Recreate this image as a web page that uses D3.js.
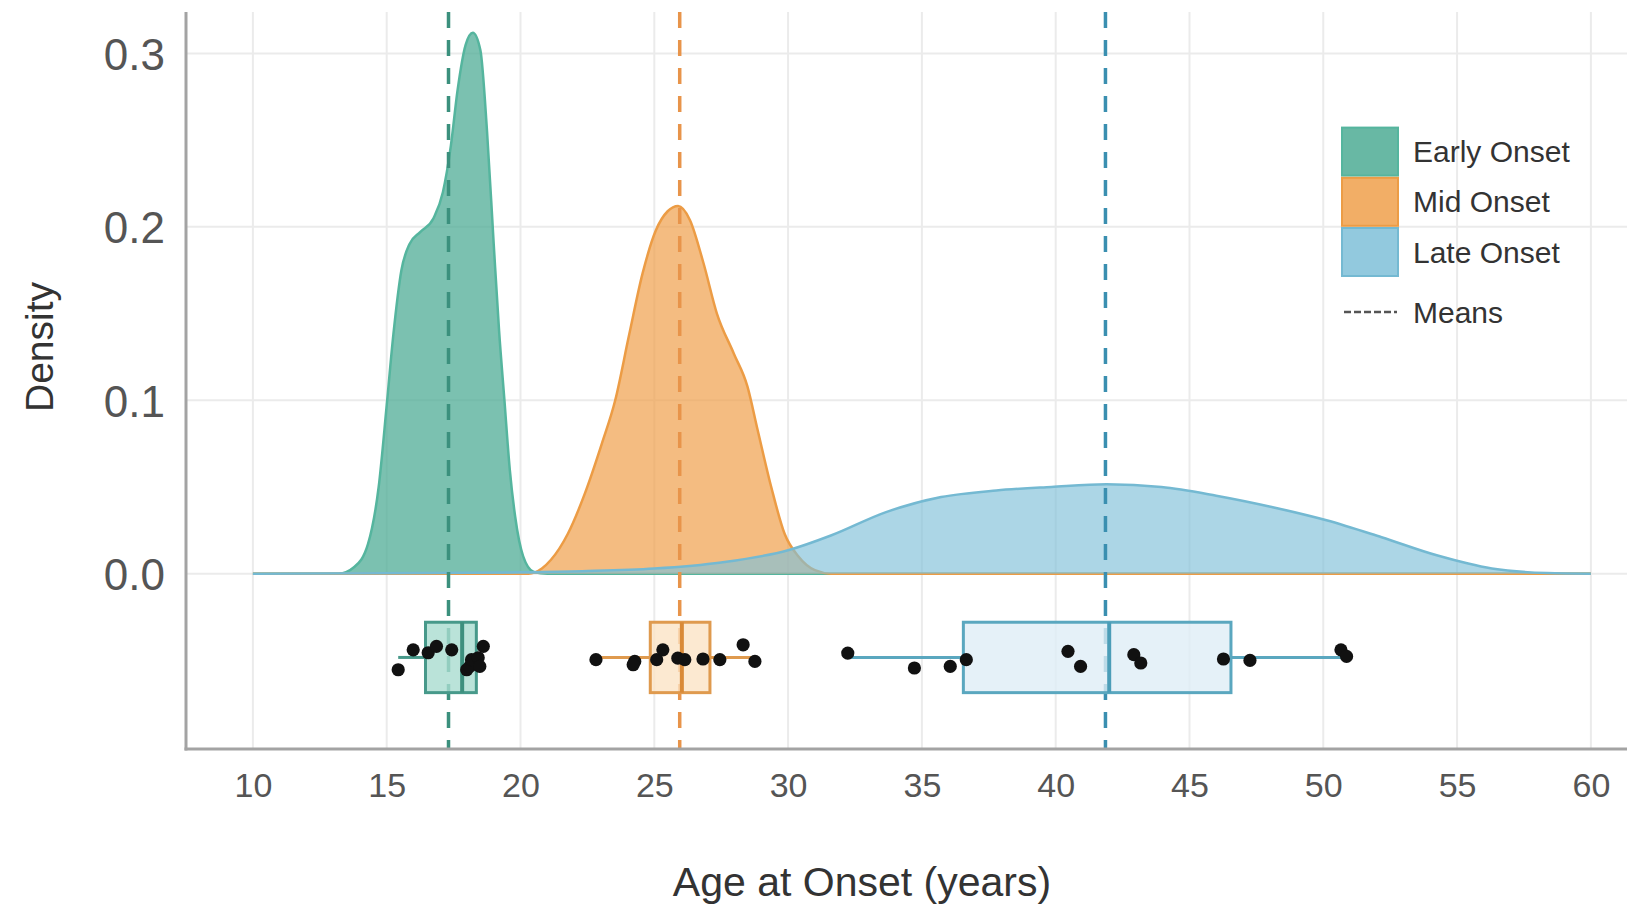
<!DOCTYPE html>
<html>
<head>
<meta charset="utf-8">
<script src="https://cdn.jsdelivr.net/npm/d3@7"></script>
<style>
  html, body { margin: 0; padding: 0; background: #fff; }
  svg { display: block; font-family: "Liberation Sans", Arial, Helvetica, sans-serif; }
</style>
</head>
<body>
<svg id="chart" width="1640" height="908"></svg>
<script>
// ---------------- DATA ----------------
const categories = ["Early Onset", "Mid Onset", "Late Onset"];
const xTicks = [10, 15, 20, 25, 30, 35, 40, 45, 50, 55, 60];
const yTicks = [0.0, 0.1, 0.2, 0.3];
const yTickLabels = ["0.0", "0.1", "0.2", "0.3"];

// density curves (age, density)
const earlyAge = [10, 13.2, 13.8, 14.3, 14.7, 15.0, 15.25, 15.55, 15.85, 16.25, 16.75, 17.1, 17.4, 17.65, 17.95, 18.22, 18.5, 18.75, 19.0, 19.2, 19.4, 19.6, 19.8, 20.1, 20.5, 21, 60];
const earlyDens = [0, 0, 0.004, 0.017, 0.05, 0.097, 0.138, 0.175, 0.19, 0.197, 0.205, 0.22, 0.247, 0.279, 0.305, 0.312, 0.302, 0.255, 0.19, 0.14, 0.1, 0.06, 0.033, 0.01, 0.001, 0, 0];

const midAge = [10, 20.3, 20.8, 21.14, 21.77, 22.4, 23.04, 23.54, 24.05, 24.56, 25.06, 25.5, 25.89, 26.33, 26.84, 27.34, 27.97, 28.48, 28.86, 29.37, 29.87, 30.38, 31.0, 31.6, 60];
const midDens = [0, 0, 0.003, 0.008, 0.023, 0.046, 0.075, 0.1, 0.137, 0.173, 0.198, 0.209, 0.212, 0.204, 0.179, 0.15, 0.127, 0.108, 0.083, 0.05, 0.023, 0.01, 0.002, 0, 0];

const lateAge = [10, 15, 20, 22.5, 25, 27.5, 30, 31.6, 33.66, 35.72, 37.78, 39.84, 41.9, 43.95, 46.0, 48.07, 50.12, 52.18, 54.24, 56.3, 58.35, 60];
const lateDens = [0, 0.0002, 0.0008, 0.0015, 0.003, 0.0065, 0.0135, 0.022, 0.0355, 0.0442, 0.048, 0.05, 0.0515, 0.05, 0.045, 0.0385, 0.0308, 0.021, 0.0106, 0.003, 0.0004, 0];

const means = [17.31, 25.95, 41.86];

// boxplot statistics: [lower whisker, Q1, median, Q3, upper whisker]
const earlyBox = [15.43, 16.45, 17.82, 18.35, 18.61];
const midBox = [22.82, 24.85, 26.03, 27.08, 28.76];
const lateBox = [32.23, 36.55, 42.0, 46.55, 50.87];

// observed points: age and jittered vertical value (density units)
const earlyPtAge = [15.43, 15.99, 16.55, 16.86, 17.43, 17.99, 18.11, 18.17, 18.42, 18.61, 18.48];
const earlyPtY = [-0.0554, -0.0439, -0.0456, -0.0419, -0.0439, -0.0554, -0.0535, -0.0496, -0.0485, -0.0419, -0.0535];
const midPtAge = [22.82, 24.27, 24.21, 25.09, 25.32, 25.88, 26.14, 26.82, 27.45, 28.32, 28.76];
const midPtY = [-0.0496, -0.0506, -0.0525, -0.0496, -0.0439, -0.0487, -0.0496, -0.0492, -0.0496, -0.041, -0.0506];
const latePtAge = [32.23, 34.72, 36.06, 36.66, 40.46, 40.93, 42.92, 43.18, 46.27, 47.26, 50.66, 50.87];
const latePtY = [-0.0458, -0.0544, -0.0535, -0.0496, -0.0448, -0.0535, -0.0467, -0.0515, -0.0492, -0.05, -0.0439, -0.0477];

// ---------------- STYLE / LAYOUT ----------------
const colors = {
  fill:   ["#4dab94", "#f0a04b", "#7fc0d8"],
  fillOp: [0.74, 0.7, 0.65],
  stroke: ["#55b59e", "#ec9c45", "#74b9d2"],
  mean:   ["#3b907d", "#e8944a", "#3a8fb0"],
  boxFill:["#a9dccf", "#fbe3c6", "#dfeef6"],
  boxStroke:["#47998a", "#df9a4e", "#5aa7bf"],
  median: ["#3d907e", "#d98a38", "#4b9db8"]
};
const boxCenter = -0.0483, boxHalf = 0.0203;

const svg = d3.select("#chart");
const plotL = 186, plotR = 1627, plotT = 12, plotB = 749;

const x = d3.scaleLinear().domain([7.5, 61.35]).range([plotL, plotR]);
const y = d3.scaleLinear().domain([-0.1011, 0.3239]).range([plotB, plotT]);

// grid
const grid = svg.append("g");
grid.selectAll("line.v").data(xTicks).join("line").attr("class", "v")
  .attr("x1", d => x(d)).attr("x2", d => x(d))
  .attr("y1", plotT).attr("y2", plotB)
  .attr("stroke", "#ebebeb").attr("stroke-width", 2);
grid.selectAll("line.h").data(yTicks).join("line").attr("class", "h")
  .attr("x1", plotL).attr("x2", plotR)
  .attr("y1", d => y(d)).attr("y2", d => y(d))
  .attr("stroke", "#ebebeb").attr("stroke-width", 2);

// densities
const series = [
  {age: earlyAge, dens: earlyDens},
  {age: midAge, dens: midDens},
  {age: lateAge, dens: lateDens}
];
const area = d3.area().curve(d3.curveMonotoneX)
  .x(d => x(d[0])).y0(y(0)).y1(d => y(d[1]));
const line = d3.line().curve(d3.curveMonotoneX)
  .x(d => x(d[0])).y(d => y(d[1]));
series.forEach((s, i) => {
  const pts = s.age.map((a, j) => [a, s.dens[j]]);
  svg.append("path").datum(pts).attr("d", area)
    .attr("fill", colors.fill[i]).attr("fill-opacity", colors.fillOp[i]);
  svg.append("path").datum(pts).attr("d", line)
    .attr("fill", "none").attr("stroke", colors.stroke[i]).attr("stroke-width", 2.5);
});

// mean lines
svg.append("g").selectAll("line").data(means).join("line")
  .attr("x1", d => x(d)).attr("x2", d => x(d))
  .attr("y1", plotT).attr("y2", plotB)
  .attr("stroke", (d, i) => colors.mean[i]).attr("stroke-width", 3.5)
  .attr("stroke-dasharray", "16,12");

// boxplots
const boxes = [earlyBox, midBox, lateBox];
boxes.forEach((b, i) => {
  const g = svg.append("g");
  g.append("line").attr("x1", x(b[0])).attr("x2", x(b[1]))
    .attr("y1", y(boxCenter)).attr("y2", y(boxCenter))
    .attr("stroke", colors.boxStroke[i]).attr("stroke-width", 3);
  g.append("line").attr("x1", x(b[3])).attr("x2", x(b[4]))
    .attr("y1", y(boxCenter)).attr("y2", y(boxCenter))
    .attr("stroke", colors.boxStroke[i]).attr("stroke-width", 3);
  g.append("rect").attr("x", x(b[1])).attr("width", x(b[3]) - x(b[1]))
    .attr("y", y(boxCenter + boxHalf)).attr("height", y(boxCenter - boxHalf) - y(boxCenter + boxHalf))
    .attr("fill", colors.boxFill[i]).attr("fill-opacity", 0.8)
    .attr("stroke", colors.boxStroke[i]).attr("stroke-width", 3);
  g.append("line").attr("x1", x(b[2])).attr("x2", x(b[2]))
    .attr("y1", y(boxCenter + boxHalf)).attr("y2", y(boxCenter - boxHalf))
    .attr("stroke", colors.median[i]).attr("stroke-width", 4);
});

// points
const ptSets = [[earlyPtAge, earlyPtY], [midPtAge, midPtY], [latePtAge, latePtY]];
ptSets.forEach(([ages, ys]) => {
  svg.append("g").selectAll("circle").data(ages.map((a, j) => [a, ys[j]])).join("circle")
    .attr("cx", d => x(d[0])).attr("cy", d => y(d[1])).attr("r", 6.6)
    .attr("fill", "#111");
});

// axes lines
svg.append("line").attr("x1", plotL).attr("x2", plotL).attr("y1", plotT).attr("y2", plotB + 1.5)
  .attr("stroke", "#a3a3a3").attr("stroke-width", 3);
svg.append("line").attr("x1", plotL - 1.5).attr("x2", plotR).attr("y1", plotB).attr("y2", plotB)
  .attr("stroke", "#a3a3a3").attr("stroke-width", 3);

// tick labels
const xAxis = d3.axisBottom(x).tickValues(xTicks).tickSize(0).tickPadding(0).tickFormat(d3.format("d"));
const gx = svg.append("g").attr("transform", `translate(0,${plotB})`).call(xAxis);
gx.select(".domain").remove();
gx.selectAll("text").attr("font-size", 34).attr("fill", "#555").attr("dy", null)
  .attr("y", 48).attr("font-family", "Liberation Sans, Arial, sans-serif");

const yAxis = d3.axisLeft(y).tickValues(yTicks).tickSize(0).tickPadding(0)
  .tickFormat((d, i) => yTickLabels[i]);
const gy = svg.append("g").attr("transform", `translate(${plotL},0)`).call(yAxis);
gy.select(".domain").remove();
gy.selectAll("text").attr("font-size", 44).attr("fill", "#555")
  .attr("x", -21).attr("dy", "0.36em").attr("font-family", "Liberation Sans, Arial, sans-serif");

// axis titles
svg.append("text").attr("x", 862).attr("y", 896).attr("text-anchor", "middle")
  .attr("font-size", 41).attr("fill", "#333").text("Age at Onset (years)");
svg.append("text").attr("transform", "translate(53,347) rotate(-90)").attr("text-anchor", "middle")
  .attr("font-size", 39).attr("fill", "#333").text("Density");

// legend
const leg = svg.append("g");
const keyX = 1342, keyW = 56, keyTops = [127.6, 177.8, 228], keyH = 48;
categories.forEach((c, i) => {
  leg.append("rect").attr("x", keyX).attr("y", keyTops[i]).attr("width", keyW).attr("height", keyH)
    .attr("fill", colors.fill[i]).attr("fill-opacity", 0.85)
    .attr("stroke", colors.stroke[i]).attr("stroke-width", 2);
  leg.append("text").attr("x", 1413).attr("y", keyTops[i] + keyH / 2).attr("dy", "0.35em")
    .attr("font-size", 30).attr("fill", "#333").text(c);
});
leg.append("line").attr("x1", 1344).attr("x2", 1397).attr("y1", 312).attr("y2", 312)
  .attr("stroke", "#555").attr("stroke-width", 2.5).attr("stroke-dasharray", "7,3");
leg.append("text").attr("x", 1413).attr("y", 312).attr("dy", "0.35em")
  .attr("font-size", 30).attr("fill", "#333").text("Means");
</script>
</body>
</html>
